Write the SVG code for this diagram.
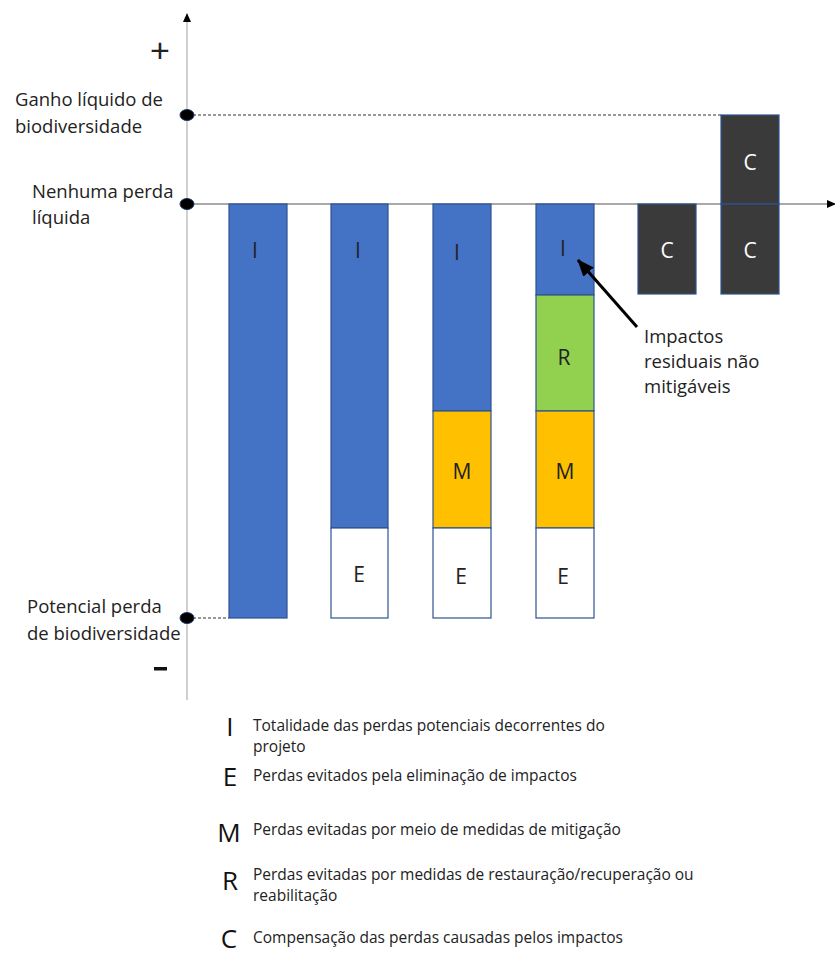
<svg xmlns="http://www.w3.org/2000/svg" width="835" height="956" viewBox="0 0 835 956">
  <style>
    text { font-family: "Open Sans", "Liberation Sans", sans-serif; fill: #222; }
    .lab { font-size: 18.5px; }
    .bar-l { font-size: 21px; text-anchor: middle; }
    .leg { font-size: 15.5px; }
    .leg-l { font-size: 26px; text-anchor: middle; fill: #111; }
    .blue { fill: #4472C4; stroke: #2F528F; stroke-width: 1.2; }
    .org { fill: #FFC000; stroke: #2F528F; stroke-width: 1.2; }
    .grn { fill: #92D050; stroke: #2F528F; stroke-width: 1.2; }
    .wht { fill: #FFFFFF; stroke: #2F528F; stroke-width: 1.2; }
    .dark { fill: #3A3A3A; stroke: #2F528F; stroke-width: 1.2; }
    .dot { fill: #000; stroke: #1F3864; stroke-width: 1; }
    .dash { stroke: #333; stroke-width: 1; stroke-dasharray: 3 2; fill: none; }
  </style>
  <defs>
    <marker id="tri" markerWidth="10" markerHeight="10" refX="8" refY="5" orient="auto" markerUnits="userSpaceOnUse">
      <path d="M0,1 L9,5 L0,9 Z" fill="#000"/>
    </marker>
    <marker id="ptr" markerWidth="18" markerHeight="16" refX="16" refY="8" orient="auto" markerUnits="userSpaceOnUse">
      <path d="M0,1 L17,8 L0,15 Z" fill="#000"/>
    </marker>
  </defs>

  <rect width="835" height="956" fill="#fff"/>

  <!-- axes -->
  <g id="axes">
    <line x1="187" y1="700" x2="187" y2="14" stroke="#b0b0b0" stroke-width="1.2" marker-end="url(#tri)"/>
    <line x1="187" y1="204" x2="835" y2="204" stroke="#555" stroke-width="1.2" marker-end="url(#tri)"/>
    <text x="160" y="62" style="font-size:34px;font-family:'Liberation Sans',sans-serif" text-anchor="middle" fill="#111">+</text>
    <rect x="154" y="667" width="13" height="3.5" fill="#111"/>
  </g>

  <!-- reference levels -->
  <g id="levels">
    <line class="dash" x1="193" y1="115" x2="721" y2="115"/>
    <line class="dash" x1="193" y1="618" x2="229" y2="618"/>
    <ellipse class="dot" cx="187" cy="115" rx="7" ry="5.5"/>
    <ellipse class="dot" cx="187" cy="204" rx="7" ry="5.5"/>
    <ellipse class="dot" cx="187" cy="618" rx="7" ry="5.5"/>
    <text class="lab" x="15" y="106">Ganho líquido de</text>
    <text class="lab" x="15" y="133">biodiversidade</text>
    <text class="lab" x="32" y="198">Nenhuma perda</text>
    <text class="lab" x="32" y="224">líquida</text>
    <text class="lab" x="27" y="613">Potencial perda</text>
    <text class="lab" x="27" y="640">de biodiversidade</text>
  </g>

  <!-- bar 1 -->
  <g id="bar1">
    <rect class="blue" x="229" y="204" width="58" height="414"/>
    <text class="bar-l" x="255" y="258">I</text>
  </g>

  <!-- bar 2 -->
  <g id="bar2">
    <rect class="blue" x="331" y="204" width="57" height="324"/>
    <rect class="wht" x="331" y="528" width="57" height="90"/>
    <text class="bar-l" x="358" y="258">I</text>
    <text class="bar-l" x="359" y="582">E</text>
  </g>

  <!-- bar 3 -->
  <g id="bar3">
    <rect class="blue" x="433" y="204" width="58" height="207"/>
    <rect class="org" x="433" y="411" width="58" height="117"/>
    <rect class="wht" x="433" y="528" width="58" height="90"/>
    <text class="bar-l" x="457" y="260">I</text>
    <text class="bar-l" x="462" y="479">M</text>
    <text class="bar-l" x="461" y="584">E</text>
  </g>

  <!-- bar 4 -->
  <g id="bar4">
    <rect class="blue" x="536" y="204" width="58" height="91"/>
    <rect class="grn" x="536" y="295" width="58" height="116"/>
    <rect class="org" x="536" y="411" width="58" height="117"/>
    <rect class="wht" x="536" y="528" width="58" height="90"/>
    <text class="bar-l" x="563" y="256">I</text>
    <text class="bar-l" x="564" y="365">R</text>
    <text class="bar-l" x="565" y="479">M</text>
    <text class="bar-l" x="563" y="584">E</text>
  </g>

  <!-- bar 5 -->
  <g id="bar5">
    <rect class="dark" x="638" y="204" width="58" height="90"/>
    <text class="bar-l" x="667" y="258" style="fill:#fff">C</text>
  </g>

  <!-- bar 6 -->
  <g id="bar6">
    <rect class="dark" x="721" y="115" width="58" height="89"/>
    <rect class="dark" x="721" y="204" width="58" height="90"/>
    <text class="bar-l" x="750" y="170" style="fill:#fff">C</text>
    <text class="bar-l" x="750" y="258" style="fill:#fff">C</text>
  </g>

  <!-- callout -->
  <g id="connectors">
    <line x1="637" y1="327" x2="578" y2="260" stroke="#000" stroke-width="3" marker-end="url(#ptr)"/>
  </g>
  <g id="callout">
    <text class="lab" x="644" y="343">Impactos</text>
    <text class="lab" x="644" y="368">residuais não</text>
    <text class="lab" x="644" y="393">mitigáveis</text>
  </g>

  <!-- legend -->
  <g id="legend">
    <text class="leg-l" x="230" y="736">I</text>
    <text class="leg" x="253" y="731">Totalidade das perdas potenciais decorrentes  do</text>
    <text class="leg" x="253" y="752">projeto</text>
    <text class="leg-l" x="230" y="786">E</text>
    <text class="leg" x="253" y="781">Perdas evitados pela eliminação de impactos</text>
    <text class="leg-l" x="229" y="842">M</text>
    <text class="leg" x="253" y="835">Perdas evitadas por meio de medidas de mitigação</text>
    <text class="leg-l" x="230" y="890">R</text>
    <text class="leg" x="253" y="880">Perdas evitadas por medidas de restauração/recuperação ou</text>
    <text class="leg" x="253" y="901">reabilitação</text>
    <text class="leg-l" x="229" y="948">C</text>
    <text class="leg" x="253" y="943">Compensação das perdas causadas pelos impactos</text>
  </g>
</svg>
